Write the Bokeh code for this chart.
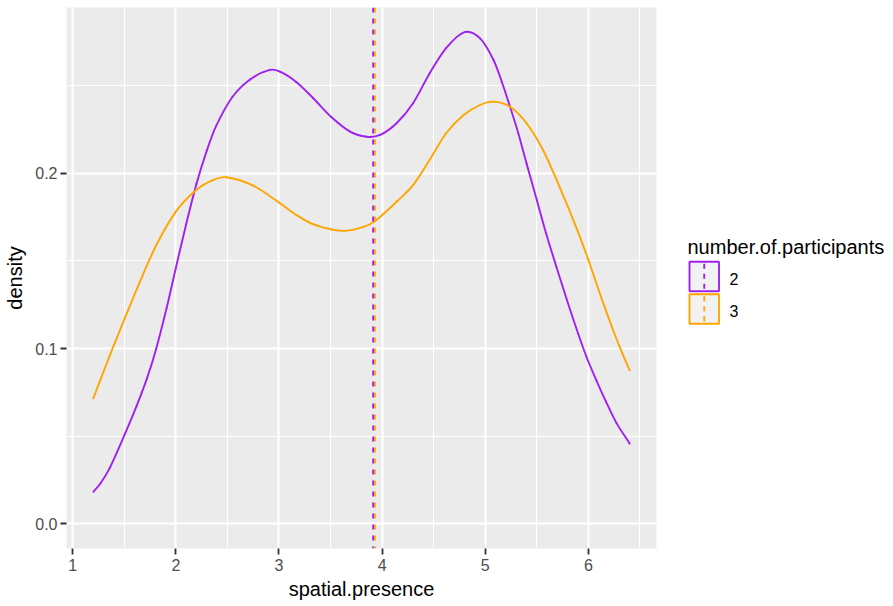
from bokeh.plotting import figure
from bokeh.models import Range1d, FixedTicker, Span, ColumnDataSource
from bokeh.layouts import row
from bokeh.embed import file_html
from bokeh.resources import INLINE
from bokeh.core.properties import value

# ---------------- data ----------------
groups = ["2", "3"]
group_colors = ["#A020F0", "#FFA500"]

x_2 = [1.20, 1.27, 1.36, 1.51, 1.62, 1.72, 1.81, 1.91, 2.00, 2.10, 2.20, 2.30,
       2.39, 2.55, 2.72, 2.91, 3.01, 3.17, 3.33, 3.51, 3.69, 3.85, 3.98, 4.14,
       4.30, 4.46, 4.62, 4.80, 4.95, 5.08, 5.16, 5.24, 5.32, 5.40, 5.50, 5.59,
       5.69, 5.79, 5.90, 5.98, 6.08, 6.17, 6.27, 6.40]
y_2 = [0.0183, 0.0232, 0.0320, 0.0518, 0.0673, 0.0830, 0.1000, 0.1230, 0.1460,
       0.1710, 0.1940, 0.2130, 0.2270, 0.2437, 0.2536, 0.2590, 0.2580, 0.2520,
       0.2430, 0.2320, 0.2238, 0.2209, 0.2219, 0.2286, 0.2400, 0.2570, 0.2715,
       0.2806, 0.2770, 0.2647, 0.2523, 0.2380, 0.2229, 0.2057, 0.1847, 0.1657,
       0.1466, 0.1280, 0.1086, 0.0955, 0.0815, 0.0698, 0.0578, 0.0458]

x_3 = [1.20, 1.36, 1.51, 1.65, 1.81, 2.00, 2.20, 2.36, 2.49, 2.75, 3.01, 3.17,
       3.33, 3.51, 3.64, 3.82, 3.93, 4.14, 4.30, 4.46, 4.62, 4.79, 4.95, 5.08,
       5.24, 5.40, 5.56, 5.72, 5.88, 6.00, 6.14, 6.24, 6.33, 6.40]
y_3 = [0.0717, 0.0962, 0.1180, 0.1380, 0.1590, 0.1782, 0.1907, 0.1962, 0.1978,
       0.1930, 0.1829, 0.1762, 0.1710, 0.1680, 0.1672, 0.1695, 0.1727, 0.1838,
       0.1933, 0.2076, 0.2229, 0.2333, 0.2390, 0.2409, 0.2380, 0.2286, 0.2133,
       0.1923, 0.1695, 0.1505, 0.1265, 0.1105, 0.0971, 0.0876]

group_means = [3.913, 3.930]

x_ticks = [1, 2, 3, 4, 5, 6]
x_tick_labels = ["1", "2", "3", "4", "5", "6"]
x_minor = [1.5, 2.5, 3.5, 4.5, 5.5, 6.5]
y_ticks = [0.0, 0.1, 0.2]
y_tick_labels = ["0.0", "0.1", "0.2"]
y_minor = [0.05, 0.15, 0.25]

x_title = "spatial.presence"
y_title = "density"
legend_title = "number.of.participants"


def hermite_segments(xs, ys):
    """Cubic Bezier pieces through the read points (drawing only)."""
    n = len(xs)
    m = []
    for i in range(n):
        if i == 0:
            m.append((ys[1] - ys[0]) / (xs[1] - xs[0]))
        elif i == n - 1:
            m.append((ys[-1] - ys[-2]) / (xs[-1] - xs[-2]))
        else:
            m.append((ys[i + 1] - ys[i - 1]) / (xs[i + 1] - xs[i - 1]))
    d = dict(x0=[], y0=[], x1=[], y1=[], cx0=[], cy0=[], cx1=[], cy1=[])
    for i in range(n - 1):
        h = (xs[i + 1] - xs[i]) / 3.0
        d["x0"].append(xs[i]); d["y0"].append(ys[i])
        d["x1"].append(xs[i + 1]); d["y1"].append(ys[i + 1])
        d["cx0"].append(xs[i] + h); d["cy0"].append(ys[i] + m[i] * h)
        d["cx1"].append(xs[i + 1] - h); d["cy1"].append(ys[i + 1] - m[i + 1] * h)
    return d


# ---------------- ranges (ggplot-style 5% expansion) ----------------
xs_all = x_2 + x_3
x_lo, x_hi = min(xs_all), max(xs_all)
x_pad = 0.05 * (x_hi - x_lo)
y_lo, y_hi = 0.0, max(y_2 + y_3)
y_pad = 0.05 * (y_hi - y_lo)

FONT = "Liberation Sans"
PAGE_H = 606
BORDER_TOP, BORDER_BOTTOM = 7, 58

p = figure(width=660, height=PAGE_H, output_backend="svg", toolbar_location=None,
           x_range=Range1d(x_lo - x_pad, x_hi + x_pad),
           y_range=Range1d(y_lo - y_pad, y_hi + y_pad),
           min_border_left=66, min_border_right=4, min_border_top=BORDER_TOP,
           min_border_bottom=BORDER_BOTTOM,
           background_fill_color="#EBEBEB", border_fill_color="white",
           outline_line_color=None)

p.xaxis.ticker = FixedTicker(ticks=x_ticks, minor_ticks=x_minor)
p.yaxis.ticker = FixedTicker(ticks=y_ticks, minor_ticks=y_minor)
p.xaxis.major_label_overrides = dict(zip(x_ticks, x_tick_labels))
p.yaxis.major_label_overrides = dict(zip(y_ticks, y_tick_labels))

p.grid.grid_line_color = "white"
p.grid.grid_line_width = 2
p.grid.minor_grid_line_color = "white"
p.grid.minor_grid_line_width = 1

for ax in (p.xaxis, p.yaxis):
    ax.axis_line_color = None
    ax.minor_tick_line_color = None
    ax.major_tick_line_color = "#333333"
    ax.major_tick_line_width = 1.8
    ax.major_tick_in = 0
    ax.major_tick_out = 6
    ax.major_label_text_font = FONT
    ax.major_label_text_font_size = "16px"
    ax.major_label_text_color = "#4D4D4D"
    ax.axis_label_text_font = FONT
    ax.axis_label_text_font_size = "20px"
    ax.axis_label_text_font_style = "normal"
    ax.axis_label_text_color = "black"

p.xaxis.axis_label = x_title
p.yaxis.axis_label = y_title
p.xaxis.major_label_standoff = 4
p.xaxis.axis_label_standoff = 4
p.yaxis.major_label_standoff = 3
p.yaxis.axis_label_standoff = 6

for xs, ys, c in zip([x_2, x_3], [y_2, y_3], group_colors):
    src = ColumnDataSource(hermite_segments(xs, ys))
    p.bezier(x0="x0", y0="y0", x1="x1", y1="y1", cx0="cx0", cy0="cy0",
             cx1="cx1", cy1="cy1", source=src, line_color=c, line_width=1.9,
             line_cap="round")

for m, c in zip(group_means, group_colors):
    p.add_layout(Span(location=m, dimension="height", line_color=c,
                      line_width=1.9, line_dash="5 6"))

# ---------------- legend (separate canvas, page-pixel coordinates) ----------------
# Same vertical borders as the main plot so the row keeps both frames aligned;
# the y range then maps values straight onto page pixel rows.
LEG_X0, LEG_W = 660, 233
leg = figure(width=LEG_W, height=PAGE_H, output_backend="svg",
             toolbar_location=None, title=None,
             x_range=Range1d(LEG_X0, LEG_X0 + LEG_W),
             y_range=Range1d(PAGE_H - BORDER_BOTTOM, BORDER_TOP),
             x_axis_type=None, y_axis_type=None,
             min_border_left=0, min_border_right=0,
             min_border_top=BORDER_TOP, min_border_bottom=BORDER_BOTTOM,
             outline_line_color=None,
             background_fill_color="white", border_fill_color="white")

title_x, title_base = 687, 246.7
key_left, key_w, key_h, key_step, key_top0 = 689, 29.5, 29.5, 32.5, 261.3
label_x = 729

leg.text(x=[title_x], y=[title_base], text=[legend_title],
         text_font=value(FONT), text_font_size="20px", text_color="black",
         text_align="left", text_baseline="alphabetic")

tops = [key_top0 + i * key_step for i in range(len(groups))]
bottoms = [t + key_h for t in tops]
leg.quad(left=[key_left] * len(groups), right=[key_left + key_w] * len(groups),
         top=tops, bottom=bottoms, fill_color="#F2F2F2",
         line_color=group_colors, line_width=1.9)
cx = key_left + key_w / 2
leg.segment(x0=[cx] * len(groups), y0=[t + 2 for t in tops],
            x1=[cx] * len(groups), y1=[b - 1 for b in bottoms],
            line_color=group_colors, line_width=1.9, line_dash="5 5")
leg.text(x=[label_x] * len(groups), y=[(t + b) / 2 + 2 for t, b in zip(tops, bottoms)],
         text=groups, text_font=value(FONT), text_font_size="16px",
         text_color="black", text_align="left", text_baseline="middle")

layout = row(p, leg)
open("out.html", "w").write(file_html(layout, INLINE))
